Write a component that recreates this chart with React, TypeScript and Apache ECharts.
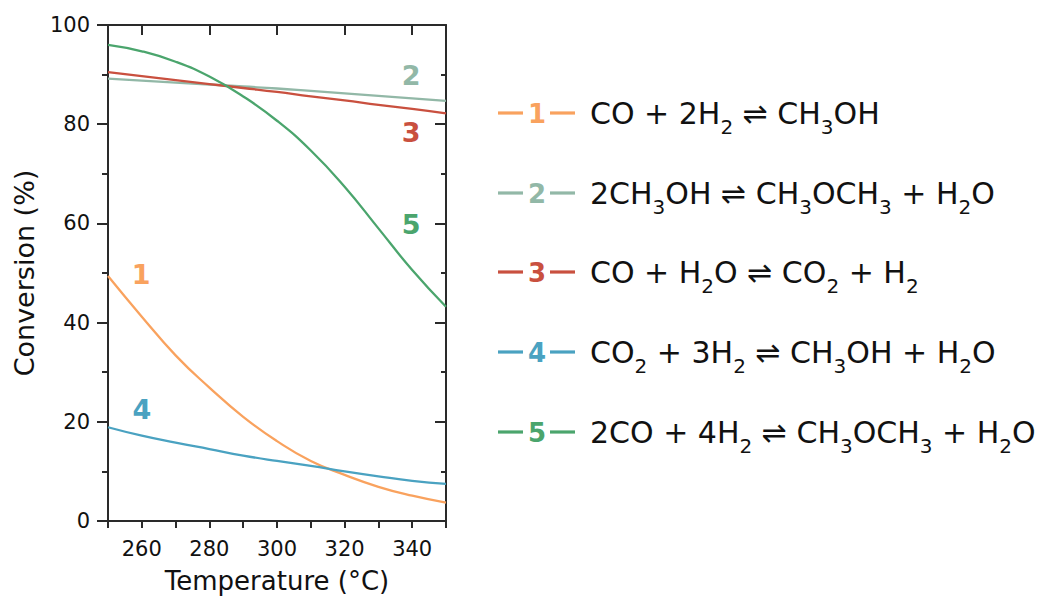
import React, { useEffect, useRef } from "react";
import * as echarts from "echarts";

const temperatures = [250, 260, 270, 280, 290, 300, 310, 320, 330, 340, 350];
const conv1 = [49.4, 41.2, 33.4, 26.9, 21.0, 16.1, 12.1, 9.3, 6.9, 5.1, 3.7];
const conv2 = [89.2, 88.8, 88.4, 88.0, 87.6, 87.2, 86.7, 86.2, 85.7, 85.2, 84.7];
const conv3 = [90.5, 89.7, 88.9, 88.1, 87.3, 86.5, 85.6, 84.8, 83.9, 83.1, 82.2];
const conv4 = [18.9, 17.2, 15.8, 14.5, 13.2, 12.1, 11.1, 10.0, 9.0, 8.1, 7.5];
const conv5 = [96.0, 94.7, 92.6, 89.6, 85.6, 80.7, 74.7, 67.4, 59.0, 50.6, 43.2];

const seriesNames = ["1", "2", "3", "4", "5"];
const seriesColors = ["#F9A25E", "#92B8A7", "#C9503F", "#4AA2C1", "#4BA56D"];
// curve label anchor points [temperature, conversion]
const labelAnchors: [number, number][] = [
  [259.8, 49.6],
  [339.7, 89.9],
  [339.7, 78.4],
  [260.0, 22.5],
  [339.7, 59.8],
];
// legend formulas as rich-text strings ({s|..} = subscript)
const reactions = [
  "CO + 2H{s|2} ⇌ CH{s|3}OH",
  "2CH{s|3}OH ⇌ CH{s|3}OCH{s|3} + H{s|2}O",
  "CO + H{s|2}O ⇌ CO{s|2} + H{s|2}",
  "CO{s|2} + 3H{s|2} ⇌ CH{s|3}OH + H{s|2}O",
  "2CO + 4H{s|2} ⇌ CH{s|3}OCH{s|3} + H{s|2}O",
];

const xMajorTop = [260, 280, 300, 320, 340];
const xMinorTop = [270, 290, 310, 330];

export default function App() {
  const ref = useRef<HTMLDivElement>(null);
  useEffect(() => {
    document.body.style.margin = "0";
    const chart = echarts.init(ref.current!, null, { renderer: "svg" });
    const data = [conv1, conv2, conv3, conv4, conv5];
    const axisColor = "#2a2a2a";
    const tickFont = "DejaVu Sans";
    const legendFont = "'DejaVu Sans', sans-serif";

    const series: any[] = data.map((vals, i) => ({
      type: "line",
      name: seriesNames[i],
      data: temperatures.map((t, j) => [t, vals[j]]),
      smooth: true,
      symbol: "none",
      lineStyle: { color: seriesColors[i], width: 2.3 },
      xAxisIndex: 0,
      yAxisIndex: 0,
      markPoint: {
        symbol: "circle",
        symbolSize: 0,
        data: [{ coord: labelAnchors[i] }],
        label: {
          show: true,
          formatter: seriesNames[i],
          color: seriesColors[i],
          fontSize: 27,
          fontWeight: "bold",
          fontFamily: tickFont,
          position: "inside",
        },
      },
    }));

    const rowY = [113, 193, 272, 352, 432];
    const graphics: any[] = [];
    reactions.forEach((r, i) => {
      const y = rowY[i];
      graphics.push({
        type: "line",
        shape: { x1: 498, y1: y, x2: 523, y2: y },
        style: { stroke: seriesColors[i], lineWidth: 3.2 },
      });
      graphics.push({
        type: "line",
        shape: { x1: 550, y1: y, x2: 575, y2: y },
        style: { stroke: seriesColors[i], lineWidth: 3.2 },
      });
      graphics.push({
        type: "text",
        x: 537,
        y: y + 1,
        style: {
          text: seriesNames[i],
          fill: seriesColors[i],
          font: "bold 26px 'DejaVu Sans'",
          align: "center",
          verticalAlign: "middle",
        },
      });
      graphics.push({
        type: "text",
        x: 590,
        y: y,
        style: {
          text: r,
          fill: "#111",
          fontFamily: legendFont,
          fontSize: 30,
          verticalAlign: "middle",
          align: "left",
          rich: {
            s: { fontSize: 20, fontFamily: legendFont, fill: "#111", padding: [28, 0, 0, 0] },
          },
        },
      });
    });

    chart.setOption({
      animation: false,
      grid: { left: 108, right: 593, top: 25, bottom: 75, containLabel: false, outerBoundsMode: "none" },
      xAxis: [
        {
          type: "value",
          position: "bottom",
          min: 250,
          max: 350,
          interval: 10,
          axisLine: { show: true, onZero: false, lineStyle: { color: axisColor, width: 2 } },
          axisTick: { show: true, length: 7, lineStyle: { color: axisColor, width: 2 } },
          axisLabel: {
            formatter: (v: number) => (v % 20 === 0 ? String(v) : ""),
            color: "#111",
            fontSize: 21,
            fontFamily: tickFont,
            margin: 17,
          },
          splitLine: { show: false },
          name: "Temperature (°C)",
          nameLocation: "middle",
          nameGap: 47,
          nameTextStyle: { fontSize: 26, fontFamily: tickFont, color: "#111" },
        },
        {
          type: "value",
          position: "top",
          min: 250,
          max: 350,
          axisLine: { show: true, onZero: false, lineStyle: { color: axisColor, width: 2 } },
          axisTick: { show: true, inside: true, length: 10, customValues: xMajorTop, lineStyle: { color: axisColor, width: 2 } },
          axisLabel: { show: false },
          splitLine: { show: false },
        },
        {
          type: "value",
          position: "top",
          min: 250,
          max: 350,
          axisLine: { show: false },
          axisTick: { show: true, inside: true, length: 5, customValues: xMinorTop, lineStyle: { color: axisColor, width: 2 } },
          axisLabel: { show: false },
          splitLine: { show: false },
        },
      ],
      yAxis: [
        {
          type: "value",
          position: "left",
          min: 0,
          max: 100,
          interval: 20,
          axisLine: { show: true, onZero: false, lineStyle: { color: axisColor, width: 2 } },
          axisTick: { show: true, length: 11, lineStyle: { color: axisColor, width: 2 } },
          minorTick: { show: true, splitNumber: 2, length: 6, lineStyle: { color: axisColor, width: 2 } },
          axisLabel: { color: "#111", fontSize: 21, fontFamily: tickFont, margin: 18 },
          splitLine: { show: false },
          minorSplitLine: { show: false },
          name: "Conversion (%)",
          nameLocation: "middle",
          nameGap: 70,
          nameTextStyle: { fontSize: 27, fontFamily: tickFont, color: "#111" },
        },
        {
          type: "value",
          position: "right",
          min: 0,
          max: 100,
          interval: 20,
          axisLine: { show: true, onZero: false, lineStyle: { color: axisColor, width: 2 } },
          axisTick: { show: true, inside: true, length: 11, lineStyle: { color: axisColor, width: 2 } },
          minorTick: { show: true, splitNumber: 2, length: 5, lineStyle: { color: axisColor, width: 2 } },
          axisLabel: { show: false },
          splitLine: { show: false },
          minorSplitLine: { show: false },
        },
      ],
      series,
      graphic: graphics,
    });
    return () => chart.dispose();
  }, []);
  return <div ref={ref} style={{ width: 1039, height: 596 }} />;
}
